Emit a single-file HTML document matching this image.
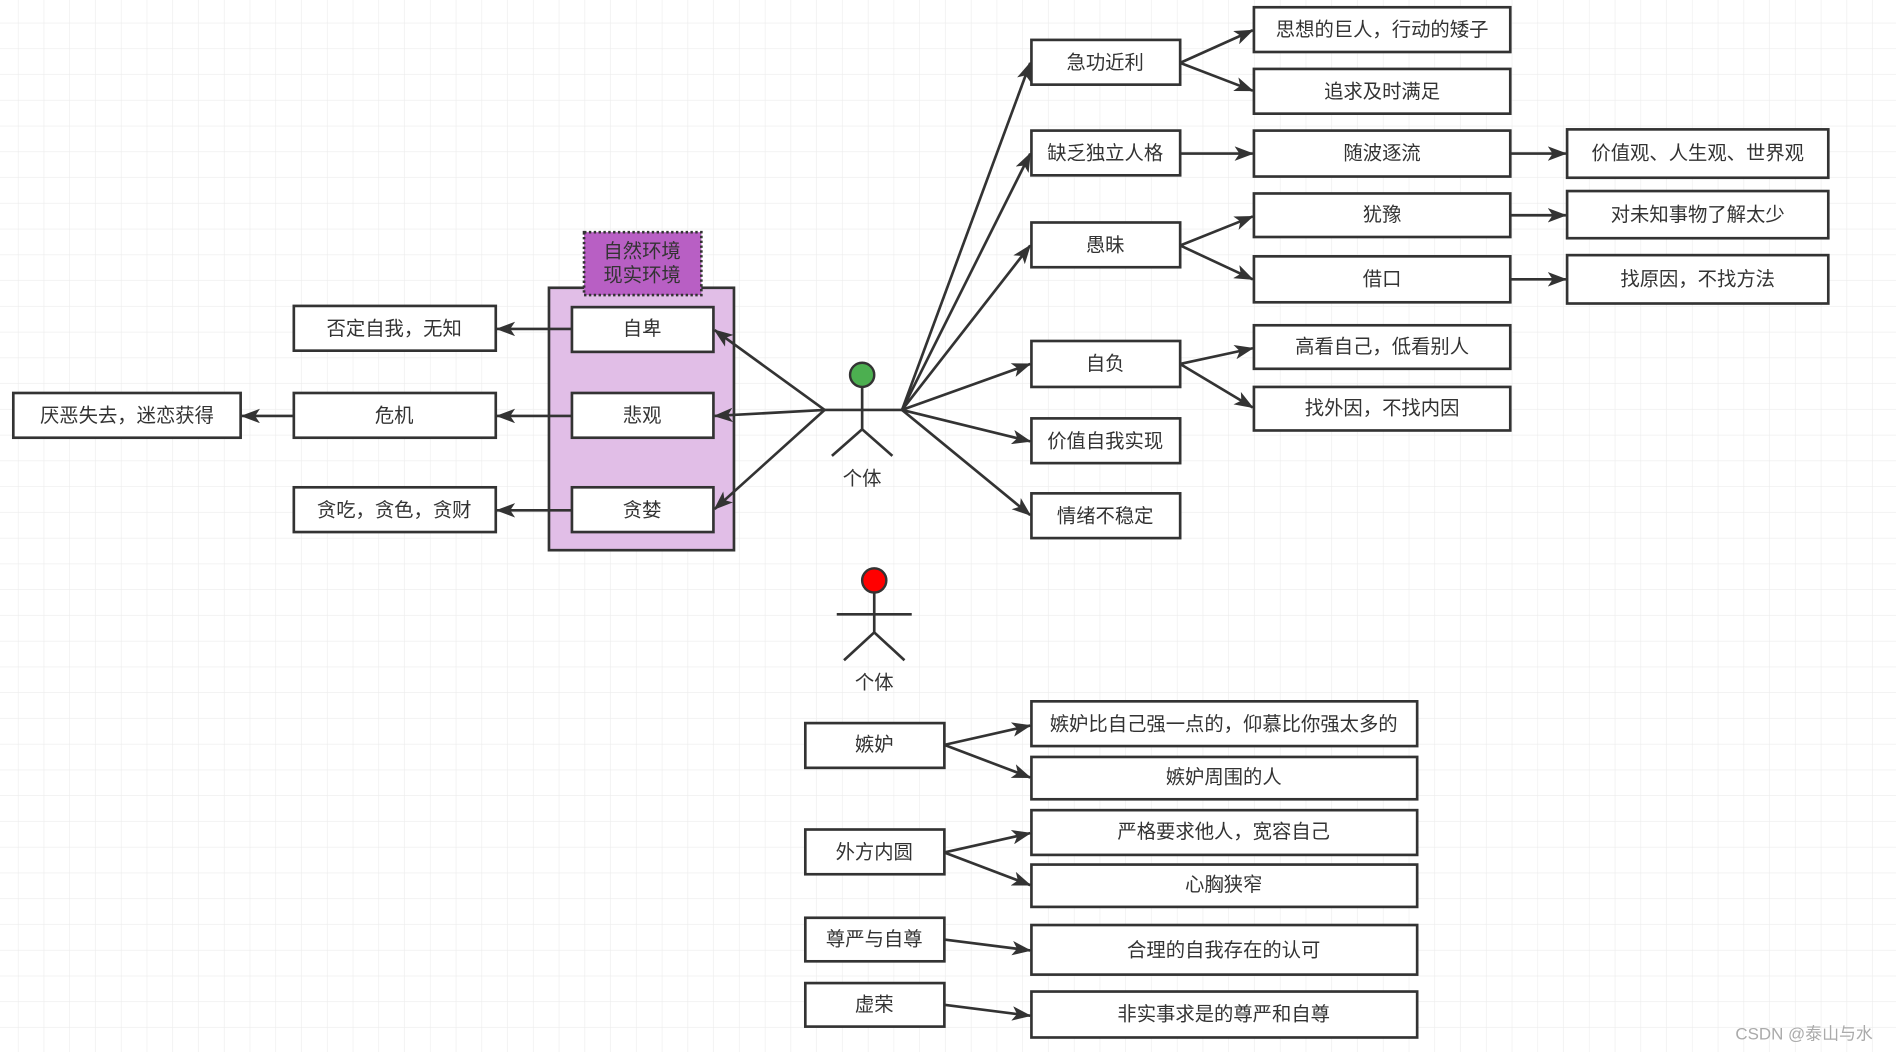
<!DOCTYPE html>
<html><head><meta charset="utf-8"><style>
html,body{margin:0;padding:0;background:#fff;}
svg{display:block;}
text{font-family:"Liberation Sans","Noto Sans CJK SC",sans-serif;font-size:16px;fill:#333;text-anchor:middle;dominant-baseline:central;}
</style></head><body>
<svg width="1896" height="1052" viewBox="0 0 1568 870" preserveAspectRatio="none" xmlns="http://www.w3.org/2000/svg">
<defs>
<pattern id="g" width="21.3" height="21.3" patternUnits="userSpaceOnUse" x="-6" y="-2">
<path d="M21.3 0V21.3M0 21.3H21.3" stroke="#ececec" stroke-width="1" fill="none"/>
</pattern>
<marker id="a" markerWidth="10" markerHeight="10" refX="9" refY="5" orient="auto" markerUnits="userSpaceOnUse" viewBox="0 0 10 10">
<path d="M0,0 L10,5 L0,10 L3,5 Z" fill="#333"/>
</marker>
<marker id="b" markerWidth="16" markerHeight="12" refX="15" refY="6" orient="auto" markerUnits="userSpaceOnUse" viewBox="0 0 16 12">
<path d="M0,0 L16,6 L0,12 L4,6 Z" fill="#333"/>
</marker>
</defs>
<rect width="1568" height="870" fill="url(#g)"/>
<g stroke="#333" stroke-width="2.2" fill="#fff">
<rect x="454" y="238" width="153" height="217" fill="#e1bee7"/>
<rect x="483" y="192" width="97" height="52" fill="#b85fc4" stroke-dasharray="2,2"/>
<rect x="473" y="254" width="117" height="37"/>
<rect x="473" y="325" width="117" height="37"/>
<rect x="473" y="403" width="117" height="37"/>
<rect x="243" y="253" width="167" height="37"/>
<rect x="243" y="325" width="167" height="37"/>
<rect x="243" y="403" width="167" height="37"/>
<rect x="11" y="325" width="188" height="37"/>
<rect x="853" y="33" width="123" height="37"/>
<rect x="853" y="108" width="123" height="37"/>
<rect x="853" y="184" width="123" height="37"/>
<rect x="853" y="282" width="123" height="38"/>
<rect x="853" y="346" width="123" height="37"/>
<rect x="853" y="408" width="123" height="37"/>
<rect x="1037" y="6" width="212" height="37"/>
<rect x="1037" y="57" width="212" height="37"/>
<rect x="1037" y="108" width="212" height="38"/>
<rect x="1037" y="160" width="212" height="36"/>
<rect x="1037" y="212" width="212" height="38"/>
<rect x="1037" y="269" width="212" height="36"/>
<rect x="1037" y="320" width="212" height="36"/>
<rect x="1296" y="107" width="216" height="40"/>
<rect x="1296" y="158" width="216" height="39"/>
<rect x="1296" y="211" width="216" height="40"/>
<rect x="666" y="598" width="115" height="37"/>
<rect x="666" y="686" width="115" height="37"/>
<rect x="666" y="759" width="115" height="36"/>
<rect x="666" y="813" width="115" height="36"/>
<rect x="853" y="580" width="319" height="37"/>
<rect x="853" y="626" width="319" height="35"/>
<rect x="853" y="670" width="319" height="37"/>
<rect x="853" y="715" width="319" height="35"/>
<rect x="853" y="765" width="319" height="41"/>
<rect x="853" y="820" width="319" height="38"/>
</g>
<g stroke="#333" stroke-width="2.2" fill="none">
<path d="M473,272H411" marker-end="url(#b)"/>
<path d="M473,344H411" marker-end="url(#b)"/>
<path d="M473,422H411" marker-end="url(#b)"/>
<path d="M243,344H200" marker-end="url(#b)"/>
<path d="M682,339L591,273" marker-end="url(#b)"/>
<path d="M682,339L591,344" marker-end="url(#b)"/>
<path d="M682,339L591,421" marker-end="url(#b)"/>
<path d="M746,339L852,52" marker-end="url(#b)"/>
<path d="M746,339L852,127" marker-end="url(#b)"/>
<path d="M746,339L852,203" marker-end="url(#b)"/>
<path d="M746,339L852,301" marker-end="url(#b)"/>
<path d="M746,339L852,365" marker-end="url(#b)"/>
<path d="M746,339L852,426" marker-end="url(#b)"/>
<path d="M976,52L1036,25" marker-end="url(#b)"/>
<path d="M976,52L1036,75" marker-end="url(#b)"/>
<path d="M976,127H1036" marker-end="url(#b)"/>
<path d="M976,203L1036,179" marker-end="url(#b)"/>
<path d="M976,203L1036,231" marker-end="url(#b)"/>
<path d="M976,301L1036,288" marker-end="url(#b)"/>
<path d="M976,301L1036,337" marker-end="url(#b)"/>
<path d="M1249,127H1295" marker-end="url(#b)"/>
<path d="M1249,178H1295" marker-end="url(#b)"/>
<path d="M1249,231H1295" marker-end="url(#b)"/>
<path d="M781,616L852,600" marker-end="url(#b)"/>
<path d="M781,616L852,643" marker-end="url(#b)"/>
<path d="M781,705L852,689" marker-end="url(#b)"/>
<path d="M781,705L852,732" marker-end="url(#b)"/>
<path d="M781,777L852,786" marker-end="url(#b)"/>
<path d="M781,831L852,840" marker-end="url(#b)"/>
<!-- actors -->
<path d="M713,320V355M682,339H746M688,377L713,355L738,377"/>
<path d="M723,490V523M692,508H754M698,546L723,523L748,546"/>
</g>
<ellipse cx="713" cy="310" rx="10" ry="10" fill="#4caf50" stroke="#333" stroke-width="2"/>
<ellipse cx="723" cy="480" rx="10" ry="10" fill="#f00" stroke="#333" stroke-width="2"/>
<text x="531" y="208">自然环境</text><text x="531" y="228">现实环境</text>
<text x="531" y="272">自卑</text>
<text x="531" y="344">悲观</text>
<text x="531" y="422">贪婪</text>
<text x="326" y="272">否定自我，无知</text>
<text x="326" y="344">危机</text>
<text x="326" y="422">贪吃，贪色，贪财</text>
<text x="105" y="344">厌恶失去，迷恋获得</text>
<text x="713" y="396">个体</text>
<text x="723" y="565">个体</text>
<text x="914" y="52">急功近利</text>
<text x="914" y="127">缺乏独立人格</text>
<text x="914" y="203">愚昧</text>
<text x="914" y="301">自负</text>
<text x="914" y="365">价值自我实现</text>
<text x="914" y="427">情绪不稳定</text>
<text x="1143" y="25">思想的巨人，行动的矮子</text>
<text x="1143" y="76">追求及时满足</text>
<text x="1143" y="127">随波逐流</text>
<text x="1143" y="178">犹豫</text>
<text x="1143" y="231">借口</text>
<text x="1143" y="287">高看自己，低看别人</text>
<text x="1143" y="338">找外因，不找内因</text>
<text x="1404" y="127">价值观、人生观、世界观</text>
<text x="1404" y="178">对未知事物了解太少</text>
<text x="1404" y="231">找原因，不找方法</text>
<text x="723" y="616">嫉妒</text>
<text x="723" y="705">外方内圆</text>
<text x="723" y="777">尊严与自尊</text>
<text x="723" y="831">虚荣</text>
<text x="1012" y="599">嫉妒比自己强一点的，仰慕比你强太多的</text>
<text x="1012" y="643">嫉妒周围的人</text>
<text x="1012" y="688">严格要求他人，宽容自己</text>
<text x="1012" y="732">心胸狭窄</text>
<text x="1012" y="786">合理的自我存在的认可</text>
<text x="1012" y="839">非实事求是的尊严和自尊</text>
<text x="1492" y="855" style="font-size:14px;fill:#aaa">CSDN @泰山与水</text>
</svg>
</body></html>
